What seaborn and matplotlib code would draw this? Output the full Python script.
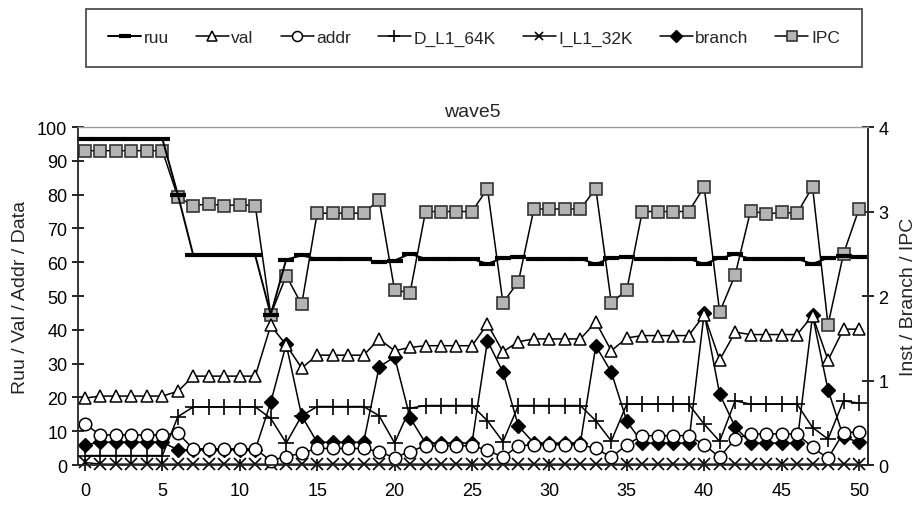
import numpy as np
import pandas as pd
import matplotlib
matplotlib.use("Agg")
import matplotlib.pyplot as plt
from matplotlib.lines import Line2D
import seaborn as sns

# ---- data -------------------------------------------------------------
steps = list(range(51))

ruu = [96.5] * 6 + [80] + [62] * 5 + [44.5, 60.8, 62] + [61] * 4 + \
      [60, 60.5, 62.5] + [61] * 4 + [59.5, 61.3, 61.5] + [61] * 4 + \
      [59.5, 61.3, 61.5] + [61] * 4 + [59.5, 61.2, 62.3] + [61] * 4 + \
      [59.5, 61.3, 61.8, 61.5]

val = [19.8] + [20.4] * 5 + [21.8] + [26.3] * 5 + [41.3, 35.5, 28.7] + \
      [32.5] * 4 + [37.3, 33.8, 34.8] + [35.3] * 4 + [41.7, 33.5, 36.5] + \
      [37.3] * 4 + [42.3, 33.8, 37.6] + [38.3] * 4 + [44.4, 31.1, 39.3] + \
      [38.6] * 4 + [44.2, 31.0, 40.2, 40.2]

addr = [12.1] + [8.9] * 5 + [9.4] + [4.8] * 5 + [1.3, 2.5, 3.5] + \
       [4.9] * 4 + [3.9, 2.2, 4.0] + [5.7] * 4 + [4.4, 2.3, 5.7] + \
       [6.0] * 4 + [4.9, 2.3, 6.0] + [8.7] * 4 + [6.0, 2.3, 7.7] + \
       [9.2] * 4 + [5.2, 2.0, 9.6, 9.8]

d_l1_64k = [2.8] * 6 + [14.3] + [17.2] * 5 + [13.8, 6.5, 14.6] + \
           [17.3] * 4 + [14.6, 6.5, 16.8] + [17.6] * 4 + [13.1, 6.9, 17.6] + \
           [17.6] * 4 + [13.1, 7.1, 18.0] + [18.0] * 4 + [12.1, 7.0, 19.0] + \
           [18.0] * 4 + [11.1, 7.7, 19.0, 18.3]

# right-hand axis series
i_l1_32k = [0.03] + [0.01] * 50

branch = [0.24] + [0.27] * 5 + [0.18] * 6 + [0.74, 1.43, 0.58] + \
         [0.27] * 4 + [1.16, 1.28, 0.56] + [0.26] * 4 + [1.47, 1.10, 0.46] + \
         [0.26] * 4 + [1.41, 1.10, 0.52] + [0.26] * 4 + [1.80, 0.84, 0.45] + \
         [0.26] * 4 + [1.77, 0.89, 0.33, 0.27]

ipc = [3.72] * 6 + [3.17, 3.07, 3.09, 3.07, 3.08, 3.07, 1.78, 2.24, 1.90] + \
      [2.98] * 4 + [3.14, 2.07, 2.04] + [3.00] * 4 + [3.27, 1.92, 2.17] + \
      [3.03] * 4 + [3.27, 1.92, 2.07] + [3.00] * 4 + [3.29, 1.81, 2.25] + \
      [3.01, 2.97, 2.99, 2.98, 3.29, 1.66, 2.50, 3.03]

left_ticks = [0, 10, 20, 30, 40, 50, 60, 70, 80, 90, 100]
right_ticks = [0, 1, 2, 3, 4]
x_ticks = [0, 5, 10, 15, 20, 25, 30, 35, 40, 45, 50]

# ---- style ------------------------------------------------------------
sns.set_theme(style="ticks")
plt.rcParams["font.family"] = ["Liberation Sans", "DejaVu Sans"]

fig = plt.figure(figsize=(9.15, 5.06), dpi=100)
ax = fig.add_axes([0.0849, 0.079, 0.8637, 0.668])
ax2 = ax.twinx()

line_style = dict(color="black", linewidth=1.1, clip_on=False)

series_left = [
    ("ruu", ruu, dict(marker="_", markersize=11, markeredgewidth=3.0,
                      markerfacecolor="black", markeredgecolor="black",
                      linewidth=1.4)),
    ("val", val, dict(marker="^", markersize=9, markeredgewidth=1.1,
                      markerfacecolor="white", markeredgecolor="black")),
    ("addr", addr, dict(marker="o", markersize=9, markeredgewidth=1.1,
                        markerfacecolor="white", markeredgecolor="black")),
    ("D_L1_64K", d_l1_64k, dict(marker="+", markersize=11,
                                markeredgewidth=1.2,
                                markeredgecolor="black")),
]
series_right = [
    ("I_L1_32K", i_l1_32k, dict(marker="x", markersize=8,
                                markeredgewidth=1.2,
                                markeredgecolor="black")),
    ("branch", branch, dict(marker="D", markersize=7.5, markeredgewidth=1,
                            markerfacecolor="black",
                            markeredgecolor="black")),
    ("IPC", ipc, dict(marker="s", markersize=9, markeredgewidth=1.2,
                      markerfacecolor="#b4b4b4",
                      markeredgecolor="#333333")),
]

handles = {}
for target, group in ((ax, series_left), (ax2, series_right)):
    for name, values, kws in group:
        kw = dict(line_style)
        kw.update(kws)
        df = pd.DataFrame({"step": steps, "value": values})
        sns.lineplot(data=df, x="step", y="value", ax=target, **kw)
        hk = {k: v for k, v in kw.items() if k != "clip_on"}
        if name == "ruu":
            hk["markersize"] = 9
        else:
            hk["markersize"] = kw["markersize"] * 0.8
        handles[name] = Line2D([], [], **hk)

# ---- axes -------------------------------------------------------------
ax.set_xlim(-0.47, 50.58)
ax.set_ylim(0, 100)
ax2.set_ylim(0, 4)
ax.set_xticks(x_ticks)
ax.set_yticks(left_ticks)
ax2.set_yticks(right_ticks)
ax.set_xlabel("")
ax.set_ylabel("Ruu / Val / Addr / Data", fontsize=14, labelpad=6)
ax2.set_ylabel("Inst / Branch / IPC", fontsize=14, labelpad=8)
ax.set_title("wave5", fontsize=14, pad=8)

for a in (ax, ax2):
    a.tick_params(direction="inout", length=9, width=1.2, labelsize=13,
                  colors="black", pad=3)
ax.tick_params(axis="x", pad=8)
ax.spines["left"].set_linewidth(1.3)
ax.spines["bottom"].set_linewidth(1.3)
ax.spines["top"].set_visible(True)
ax.spines["top"].set_color("#9a9a9a")
ax.spines["top"].set_linewidth(1.0)
ax2.spines["right"].set_color("#444444")
ax2.spines["right"].set_linewidth(1.3)
ax2.spines["top"].set_visible(False)
ax2.spines["left"].set_visible(False)
ax2.spines["bottom"].set_visible(False)
ax.set_zorder(ax2.get_zorder() + 1)
ax.patch.set_visible(False)

# ---- legend -----------------------------------------------------------
order = ["ruu", "val", "addr", "D_L1_64K", "I_L1_32K", "branch", "IPC"]
leg = fig.legend([handles[n] for n in order], order, loc="center",
                 bbox_to_anchor=(0.0962, 0.866, 0.8437, 0.114), ncol=7,
                 frameon=True, fancybox=False, handlelength=1.9,
                 handletextpad=0.15, columnspacing=1.55, borderpad=1.25,
                 prop={"family": ["Liberation Sans Narrow", "Liberation Sans"],
                       "size": 12.5},
                 bbox_transform=fig.transFigure)
frame = leg.get_frame()
frame.set_edgecolor("#222222")
frame.set_linewidth(1.3)

fig.savefig("out.png", dpi=100)
